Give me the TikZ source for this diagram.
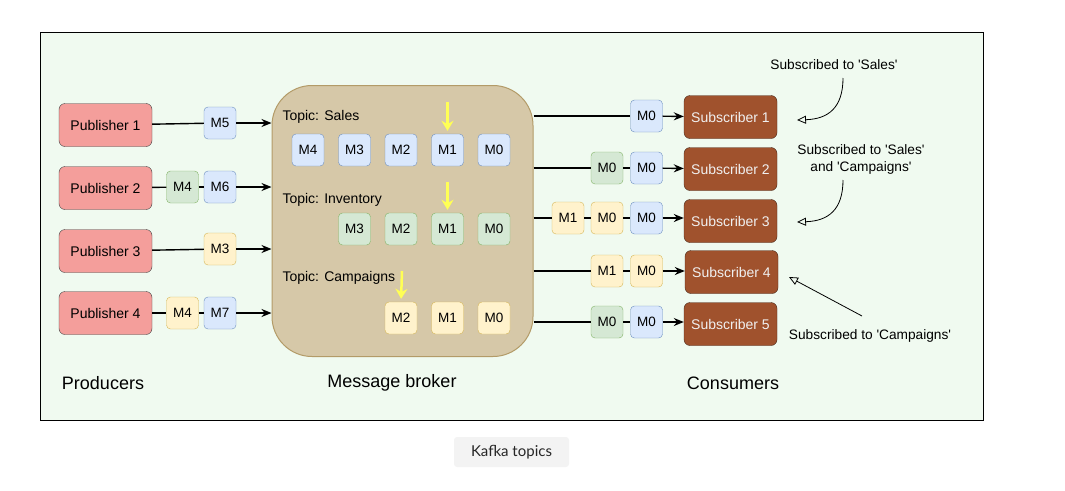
\documentclass[tikz,border=0pt]{standalone}
\usepackage{fontspec}
\setmainfont{Liberation Sans}
\newfontfamily\notefont{Liberation Sans}
\newfontfamily\captionfont{Lato}
\usetikzlibrary{positioning}
\usetikzlibrary{arrows.meta}

\definecolor{framebg}{HTML}{F0FAF0}
\definecolor{pubfill}{HTML}{F49E9B}
\definecolor{subfill}{HTML}{A0522D}
\definecolor{subline}{HTML}{4A2A1A}
\definecolor{brokerfill}{HTML}{D6C8A8}
\definecolor{brokerline}{HTML}{B39B68}
\definecolor{bluefill}{HTML}{DAE8FC}
\definecolor{blueline}{HTML}{6C8EBF}
\definecolor{greenfill}{HTML}{D5E8D4}
\definecolor{greenline}{HTML}{82B366}
\definecolor{yellowfill}{HTML}{FFF2CC}
\definecolor{yellowline}{HTML}{D6B656}
\definecolor{pointer}{HTML}{FFFF55}
\definecolor{capbg}{HTML}{F3F3F3}

\tikzset{
  pubbox/.style={draw=black!75, fill=pubfill, rounded corners=6pt, minimum width=93pt, minimum height=43pt, font=\fontsize{14}{16}\selectfont},
  subbox/.style={draw=subline, fill=subfill, text=white!94!black, rounded corners=6pt, minimum width=93pt, minimum height=43pt, font=\fontsize{14}{16}\selectfont},
  msg/.style={rounded corners=4pt, minimum size=32pt, inner sep=0pt, font=\fontsize{13.5}{15}\selectfont},
  bluemsg/.style={msg, draw=blueline, fill=bluefill},
  greenmsg/.style={msg, draw=greenline, fill=greenfill},
  yellowmsg/.style={msg, draw=yellowline, fill=yellowfill},
  flow/.style={black, line width=1.4pt},
  flowarrow/.style={flow, -{Stealth[length=10pt, width=8pt]}},
  pointerarrow/.style={pointer, line width=2.5pt, -{Stealth[length=10pt, width=12pt]}},
  noteline/.style={black, line width=0.8pt, -{Triangle[open, length=9pt, width=8pt]}},
}

\begin{document}
\begin{tikzpicture}[x=1pt, y=-1pt]
\useasboundingbox (0,0) rectangle (1065,490);
\draw[black, fill=framebg] (40,32) rectangle (983,420);
\node[fill=capbg, rounded corners=3pt, minimum width=115pt, minimum height=30pt, text=black!85, font=\captionfont\fontsize{15}{17}\selectfont] (caption) at (511.5,452) {Kafka topics};

% producers
\node[pubbox] (pub1) at (105.5,125) {Publisher 1};
\node[pubbox] (pub2) at (105.5,188) {Publisher 2};
\node[pubbox] (pub3) at (105.5,251) {Publisher 3};
\node[pubbox] (pub4) at (105.5,313) {Publisher 4};

% broker
\node[draw=brokerline, fill=brokerfill, line width=1pt, rounded corners=40pt, minimum width=261pt, minimum height=271pt] (broker) at (402.5,221) {};

\node[bluemsg] (p1m5) at (220,123) {M5};
\node[greenmsg] (p2m4) at (182.5,187) {M4};
\node[bluemsg] (p2m6) at (220,187) {M6};
\node[yellowmsg] (p3m3) at (220,249) {M3};
\node[yellowmsg] (p4m4) at (182.5,313) {M4};
\node[bluemsg] (p4m7) at (220,313) {M7};

\draw[flow] (pub1) -- (p1m5);
\draw[flowarrow] (p1m5) -- (p1m5 -| broker.west);
\draw[flow] (pub2) -- (p2m4);
\draw[flow] (p2m4) -- (p2m6);
\draw[flowarrow] (p2m6) -- (p2m6 -| broker.west);
\draw[flow] (pub3) -- (p3m3);
\draw[flowarrow] (p3m3) -- (p3m3 -| broker.west);
\draw[flow] (pub4) -- (p4m4);
\draw[flow] (p4m4) -- (p4m7);
\draw[flowarrow] (p4m7) -- (p4m7 -| broker.west);

% topics
\node[anchor=west, font=\fontsize{14}{16}\selectfont] (sales) at (279,117) {Topic: Sales};
\node[bluemsg] (salesm4) at (308,150) {M4};
\node[bluemsg] (salesm3) at (354.5,150) {M3};
\node[bluemsg] (salesm2) at (401,150) {M2};
\node[bluemsg] (salesm1) at (447.5,150) {M1};
\node[bluemsg] (salesm0) at (494,150) {M0};

\node[anchor=west, font=\fontsize{14}{16}\selectfont] (inventory) at (279,200) {Topic: Inventory};
\node[greenmsg] (invm3) at (354.5,229) {M3};
\node[greenmsg] (invm2) at (401,229) {M2};
\node[greenmsg] (invm1) at (447.5,229) {M1};
\node[greenmsg] (invm0) at (494,229) {M0};

\node[anchor=west, font=\fontsize{14}{16}\selectfont] (campaigns) at (279,278) {Topic: Campaigns};
\node[yellowmsg] (campm2) at (401,318) {M2};
\node[yellowmsg] (campm1) at (447.5,318) {M1};
\node[yellowmsg] (campm0) at (494,318) {M0};

\coordinate (salesptr) at (447.5,102);
\coordinate (invptr) at (447.5,182);
\coordinate (campptr) at (402,271);
\draw[pointerarrow, shorten >=3pt] (salesptr) -- (salesm1.north);
\draw[pointerarrow, shorten >=3pt] (invptr) -- (invm1.north);
\draw[pointerarrow, shorten >=3pt] (campptr) -- (campm2.north);

% consumers
\node[subbox] (sub1) at (730.5,117) {Subscriber 1};
\node[subbox] (sub2) at (730.5,169) {Subscriber 2};
\node[subbox] (sub3) at (730.5,221) {Subscriber 3};
\node[subbox] (sub4) at (731.5,272) {Subscriber 4};
\node[subbox] (sub5) at (730.5,324) {Subscriber 5};

\node[bluemsg] (s1m0) at (646.5,116) {M0};
\node[greenmsg] (s2m0g) at (607,168) {M0};
\node[bluemsg] (s2m0b) at (646.5,168) {M0};
\node[yellowmsg] (s3m1) at (568,218) {M1};
\node[yellowmsg] (s3m0y) at (607,218) {M0};
\node[bluemsg] (s3m0b) at (646.5,218) {M0};
\node[yellowmsg] (s4m1) at (607,271) {M1};
\node[yellowmsg] (s4m0) at (646.5,271) {M0};
\node[greenmsg] (s5m0g) at (607,322) {M0};
\node[bluemsg] (s5m0b) at (646.5,322) {M0};

\draw[flow] (s1m0 -| broker.east) -- (s1m0);
\draw[flowarrow] (s1m0) -- (sub1);
\draw[flow] (s2m0g -| broker.east) -- (s2m0g);
\draw[flow] (s2m0g) -- (s2m0b);
\draw[flowarrow] (s2m0b) -- (sub2);
\draw[flow] (s3m1 -| broker.east) -- (s3m1);
\draw[flow] (s3m1) -- (s3m0y);
\draw[flow] (s3m0y) -- (s3m0b);
\draw[flowarrow] (s3m0b) -- (s3m0b -| sub3.west);
\draw[flow] (s4m1 -| broker.east) -- (s4m1);
\draw[flow] (s4m1) -- (s4m0);
\draw[flowarrow] (s4m0) -- (s4m0 -| sub4.west);
\draw[flow] (s5m0g -| broker.east) -- (s5m0g);
\draw[flow] (s5m0g) -- (s5m0b);
\draw[flowarrow] (s5m0b) -- (s5m0b -| sub5.west);

% notes
\node[font=\notefont\fontsize{13.7}{15}\selectfont] (notesales) at (834,65) {Subscribed to 'Sales'};
\node[align=center, font=\notefont\fontsize{13.7}{17}\selectfont] (noteboth) at (861,159) {Subscribed to 'Sales'\\and 'Campaigns'};
\node[font=\notefont\fontsize{13.7}{15}\selectfont] (notecamp) at (870,336) {Subscribed to 'Campaigns'};
\coordinate (salesfrom) at (843,78);
\coordinate (salesto) at (797,120);
\coordinate (bothfrom) at (843,180);
\coordinate (bothto) at (797,222);
\coordinate (campfrom) at (862,316);
\coordinate (campto) at (789,277);
\draw[noteline] (salesfrom) .. controls (843,108) and (828,119) .. (salesto);
\draw[noteline] (bothfrom) .. controls (843,210) and (828,221) .. (bothto);
\draw[noteline] (campfrom) -- (campto);

\node[font=\fontsize{18}{21}\selectfont] (producers) at (103,383) {Producers};
\node[font=\fontsize{18}{21}\selectfont] (brokerlabel) at (392,383) {Message broker};
\node[font=\fontsize{18}{21}\selectfont] (consumers) at (733,383) {Consumers};
\end{tikzpicture}
\end{document}
